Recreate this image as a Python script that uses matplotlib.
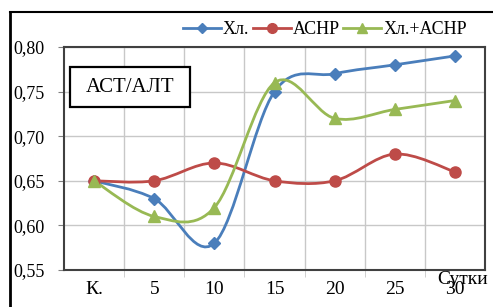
import matplotlib.pyplot as plt
import numpy as np
from matplotlib.lines import Line2D
from matplotlib.patches import PathPatch, Rectangle
from matplotlib.path import Path

plt.rcParams["font.family"] = ["Liberation Serif", "DejaVu Serif"]

categories = ["К.", "5", "10", "15", "20", "25", "30"]
hl = [0.65, 0.63, 0.58, 0.75, 0.77, 0.78, 0.79]
asnr = [0.65, 0.65, 0.67, 0.65, 0.65, 0.68, 0.66]
hl_asnr = [0.65, 0.61, 0.62, 0.76, 0.72, 0.73, 0.74]

series = [
    ("Хл.", hl, "#4a7ebb", "D", 6),
    ("АСНР", asnr, "#be4b48", "o", 8),
    ("Хл.+АСНР", hl_asnr, "#98b954", "^", 8),
]


def smooth_path(x, y):
    # Catmull-Rom through the points, written as cubic Bezier segments
    pts = np.column_stack([x, y]).astype(float)
    padded = np.vstack([pts[0], pts, pts[-1]])
    verts = [pts[0]]
    codes = [Path.MOVETO]
    for i in range(len(pts) - 1):
        p0, p1, p2, p3 = padded[i], padded[i + 1], padded[i + 2], padded[i + 3]
        c1 = p1 + (p2 - p0) / 6
        c2 = p2 - (p3 - p1) / 6
        verts += [c1, c2, p2]
        codes += [Path.CURVE4] * 3
    return Path(verts, codes)


W, H = 493, 307
fig = plt.figure(figsize=(W / 100, H / 100), dpi=100)
ax = fig.add_axes([64 / W, 1 - 270 / H, 421 / W, 223 / H])

x = np.arange(len(categories))
handles = []
for name, vals, color, marker, ms in series:
    ax.add_patch(PathPatch(smooth_path(x, vals), facecolor="none",
                           edgecolor=color, linewidth=2.0, zorder=3))
    ax.plot(x, vals, linestyle="none", marker=marker, markersize=ms,
            color=color, zorder=4)
    handles.append(Line2D([], [], color=color, linewidth=2.0,
                          marker=marker, markersize=ms - 1, label=name))

yticks = np.arange(0.55, 0.801, 0.05)
ax.set_xlim(-0.5, len(categories) - 0.5)
ax.set_ylim(0.55, 0.80)
ax.set_yticks(yticks)
ax.set_yticklabels([f"{v:.2f}".replace(".", ",") for v in yticks], fontsize=13)
ax.set_xticks(x)
ax.set_xticklabels(categories, fontsize=14)
ax.set_xticks(np.arange(0.5, len(categories) - 1, 1), minor=True)
ax.grid(axis="y", color="#c8c8c8", linewidth=1)
ax.grid(axis="x", which="minor", color="#c8c8c8", linewidth=1)
ax.tick_params(axis="x", which="major", length=0, pad=8)
ax.tick_params(axis="x", which="minor", length=5, color="#c8c8c8")
ax.tick_params(axis="y", length=4.5, color="#808080", pad=9.5)
for s in ax.spines.values():
    s.set_color("#404040")
    s.set_linewidth(1.5)

ax.add_patch(Rectangle((6 / 421, (270 - 107) / 223), 120 / 421, 40 / 223,
                       transform=ax.transAxes, facecolor="white",
                       edgecolor="black", linewidth=1.6, zorder=5))
ax.text(66 / 421, (270 - 87) / 223, "АСТ/АЛТ", transform=ax.transAxes,
        ha="center", va="center", fontsize=15, zorder=6)

fig.text(488 / W, 1 - 280 / H, "Сутки", ha="right", va="center", fontsize=14)

fig.legend(handles=handles, loc="center", bbox_to_anchor=(325 / W, 1 - 30 / H),
           ncol=3, frameon=False, fontsize=13, handlelength=2.1,
           handletextpad=0.1, columnspacing=0.2, borderaxespad=0)

fig.add_artist(Line2D([10 / W, 10 / W], [0, 1 - 12 / H], color="black",
                      linewidth=2, transform=fig.transFigure, zorder=10))
fig.add_artist(Line2D([10 / W, 1], [1 - 12 / H, 1 - 12 / H], color="black",
                      linewidth=1.5, transform=fig.transFigure, zorder=10))

fig.savefig("out.png", dpi=100)
